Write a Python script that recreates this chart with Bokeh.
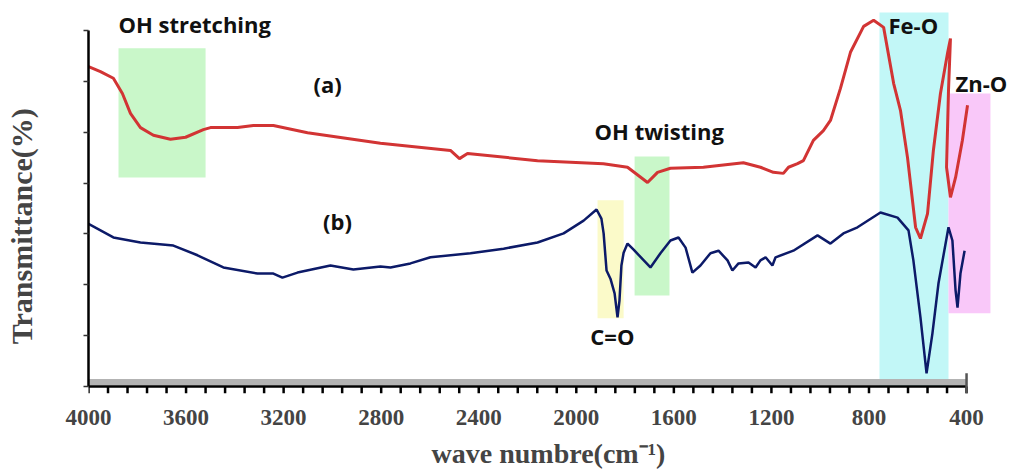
from bokeh.plotting import figure
from bokeh.models import Range1d, FixedTicker
from bokeh.core.properties import value
from bokeh.embed import file_html
from bokeh.resources import INLINE

# Spectrum (a) - red
wa = [4000, 3951, 3898, 3861, 3828, 3787, 3734, 3664, 3602, 3529, 3500, 3389, 3324, 3242, 3102,
      2803, 2516, 2479, 2446, 2159, 1889, 1790, 1708, 1667, 1614, 1479, 1315, 1245, 1192, 1151,
      1130, 1093, 1069, 1028, 987, 958, 917, 876, 822, 781, 740, 699, 671, 642, 609, 589, 560,
      536, 507, 478, 466, 474, 482, 466, 445, 417, 396]
ta = [62.9, 61.9, 60.6, 57.6, 53.7, 50.9, 49.4, 48.6, 49.0, 50.5, 50.9, 50.9, 51.3, 51.3, 49.9,
      47.8, 46.4, 44.8, 45.8, 44.4, 43.8, 43.1, 40.1, 42.1, 42.9, 43.1, 44.0, 43.1, 42.1, 41.9,
      43.1, 43.8, 44.4, 48.4, 50.3, 52.3, 58.6, 65.7, 70.8, 72.0, 70.6, 59.6, 54.3, 45.0, 31.3,
      29.1, 34.0, 46.4, 57.6, 65.5, 68.4, 58.2, 43.1, 37.2, 41.1, 48.4, 55.3]

# Spectrum (b) - blue
wb = [4000, 3898, 3787, 3652, 3553, 3447, 3307, 3242, 3205, 3143, 3008, 2914, 2803, 2762, 2680,
      2598, 2434, 2298, 2159, 2052, 1970, 1917, 1897, 1888, 1876, 1860, 1843, 1831, 1823, 1815,
      1806, 1790, 1765, 1696, 1655, 1614, 1581, 1552, 1524, 1491, 1450, 1417, 1380, 1360, 1335,
      1294, 1265, 1245, 1224, 1196, 1183, 1110, 1011, 958, 905, 847, 753, 683, 638, 618, 589,
      564, 540, 515, 474, 458, 445, 437, 425, 408]
tb = [32.0, 29.3, 28.3, 27.7, 25.8, 23.4, 22.2, 22.2, 21.4, 22.4, 23.8, 23.0, 23.6, 23.4, 24.2,
      25.4, 26.2, 27.1, 28.3, 30.1, 32.6, 34.8, 33.0, 30.1, 22.8, 21.2, 18.3, 13.6, 16.9, 23.8,
      26.3, 28.1, 26.9, 23.4, 26.2, 28.7, 29.3, 27.3, 22.4, 23.8, 26.2, 26.7, 24.8, 22.8, 24.2,
      24.4, 23.4, 24.8, 25.4, 23.8, 25.4, 26.7, 29.7, 28.1, 30.1, 31.3, 34.2, 33.2, 30.7, 24.8, 13.6,
      2.6, 10.4, 20.3, 31.3, 28.7, 18.9, 15.5, 22.2, 26.7]

# Highlight bands: left, right, bottom, top, colour
band_names = ["OH stretching", "OH twisting", "C=O", "Fe-O", "Zn-O"]
band_left = [3877, 1761, 1913, 757, 474]
band_right = [3520, 1618, 1806, 474, 302]
band_bottom = [41.1, 17.9, 13.4, 0.0, 14.4]
band_top = [66.5, 45.2, 36.6, 73.5, 57.6]
band_colors = ["#c9f7c9", "#c9f7c9", "#fbfac9", "#c2f7f7", "#f9c8f9"]

# Text annotations
note_text = ["OH stretching", "(a)", "(b)", "OH twisting", "C=O", "Fe-O", "Zn-O"]
note_x = [3877, 3020, 2979, 1925, 1852, 720, 445]
note_y = [71.3, 59.4, 32.5, 50.2, 9.9, 71.1, 59.6]
note_align = ["left", "center", "center", "left", "center", "left", "left"]

x_ticks = [4000, 3600, 3200, 2800, 2400, 2000, 1600, 1200, 800, 400]
x_minor = list(range(4000, 399, -80))
y_ticks = [0, 10, 20, 30, 40, 50, 60, 70]

p = figure(width=1009, height=472, output_backend="svg", toolbar_location=None,
           x_range=Range1d(4000, 228), y_range=Range1d(-1.57, 74.9),
           min_border_left=88, min_border_right=1, min_border_top=5, min_border_bottom=78)
p.grid.visible = False
p.outline_line_color = None
p.background_fill_color = "white"
p.border_fill_color = "white"

p.quad(left=band_left, right=band_right, bottom=band_bottom, top=band_top,
       fill_color=band_colors, line_color=None)

# grey shaded strip above the x axis
p.quad(left=[4000], right=[400], bottom=[0.2], top=[1.5], fill_color="#b3b3b3", line_color=None)

p.line(wa, ta, line_color="#d23434", line_width=3)
p.line(wb, tb, line_color="#0c1a68", line_width=2.5)

# x axis rule and ticks (drawn on the data scale)
p.segment(x0=[x_ticks[0]], y0=[0], x1=[x_ticks[-1]], y1=[0], line_color="black", line_width=2.5)
p.segment(x0=x_minor, y0=[0] * len(x_minor), x1=x_minor, y1=[-1.3] * len(x_minor),
          line_color="black", line_width=2.5)
p.segment(x0=[x_ticks[-1]], y0=[-1.3], x1=[x_ticks[-1]], y1=[2.6], line_color="#555555",
          line_width=2.5)

for t, x, y, a in zip(note_text, note_x, note_y, note_align):
    p.text(x=[x], y=[y], text=[t], text_align=a, text_baseline="middle",
           text_font=value("Open Sans"), text_font_size="22px", text_font_style="bold",
           text_color="#111111")

xa = p.xaxis[0]
xa.ticker = FixedTicker(ticks=x_ticks, minor_ticks=x_minor)
xa.axis_line_color = None
xa.major_tick_line_color = None
xa.minor_tick_line_color = None
xa.major_tick_out = 0
xa.major_tick_in = 0
xa.minor_tick_out = 0
xa.minor_tick_in = 0
xa.major_label_text_font = "Liberation Serif"
xa.major_label_text_font_style = "bold"
xa.major_label_text_font_size = "23px"
xa.major_label_standoff = 15
xa.axis_label = "wave numbre(cm⁻¹)"
xa.axis_label_text_font = "Liberation Serif"
xa.axis_label_text_font_style = "bold"
xa.axis_label_text_font_size = "28px"
xa.axis_label_standoff = 10

ya = p.yaxis[0]
ya.ticker = FixedTicker(ticks=y_ticks)
ya.bounds = (0, 70)
ya.axis_line_width = 2.5
ya.axis_line_color = "black"
ya.major_tick_line_width = 1.5
ya.major_tick_line_color = "#333333"
ya.major_tick_out = 5
ya.major_tick_in = 0
ya.minor_tick_line_color = None
ya.major_label_text_font_size = "0px"
ya.axis_label = "Transmittance(%)" + "\u00a0" * 7
ya.axis_label_text_font = "Liberation Serif"
ya.axis_label_text_font_style = "bold"
ya.axis_label_text_font_size = "30px"
ya.axis_label_standoff = 46

open("out.html", "w").write(file_html(p, INLINE))
